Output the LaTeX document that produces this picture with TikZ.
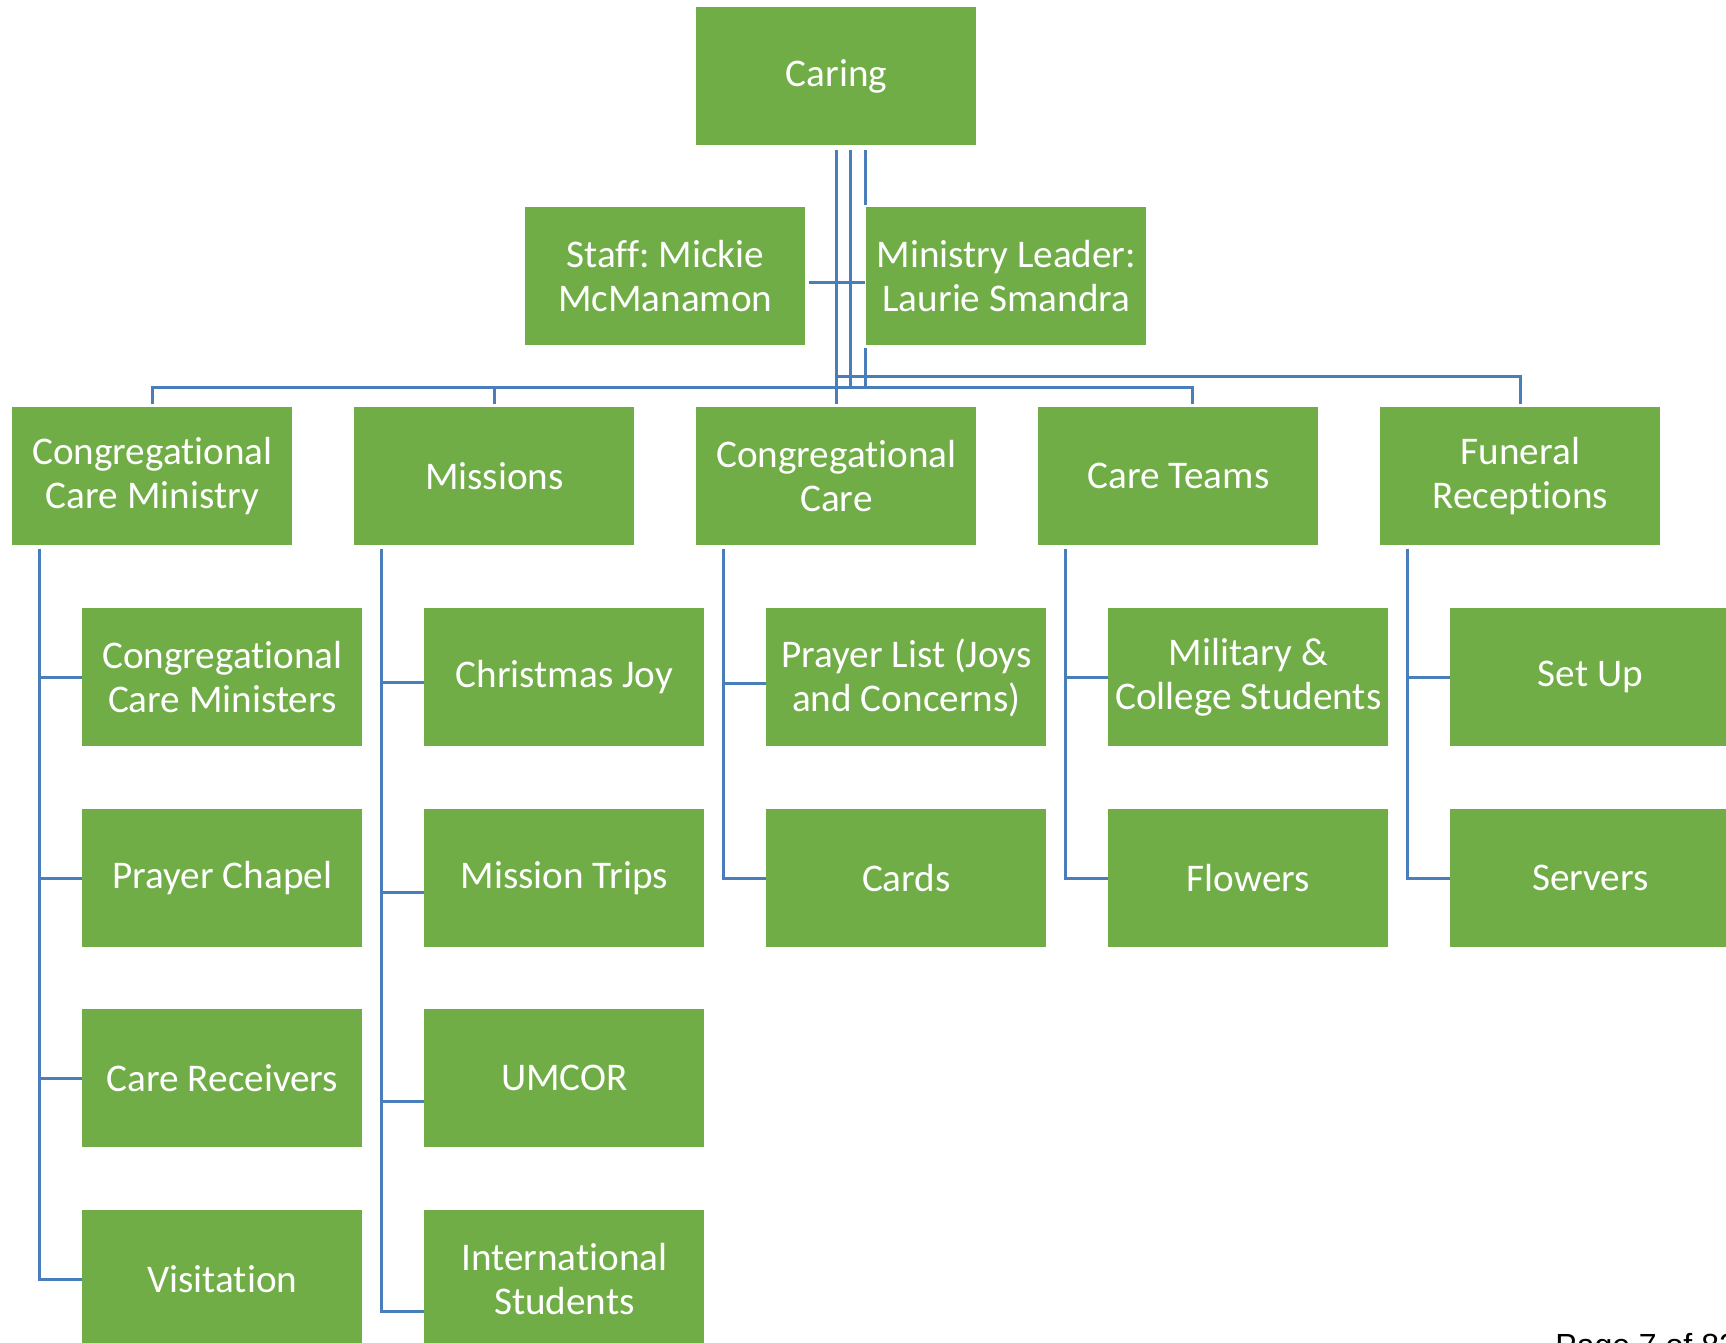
\documentclass[tikz,border=0pt]{standalone}
\usepackage{fontspec}
\setmainfont{Carlito}[Ligatures={NoCommon}]
\newfontfamily\pagefont{Liberation Sans}
\definecolor{boxgreen}{RGB}{112,173,71}
\definecolor{linkblue}{RGB}{74,126,187}
\frenchspacing

\begin{document}
\begin{tikzpicture}[x=0.5pt, y=-0.5pt,
    box/.style={fill=boxgreen, text=white, anchor=north west, align=center,
        minimum width=140pt, minimum height=69pt, inner sep=0pt,
        font=\fontsize{19.6}{22}\selectfont},
    link/.style={draw=linkblue, line width=1.5pt}]
    \useasboundingbox (0,0) rectangle (1726,1343);
    \fill[white] (0,0) rectangle (1726,1343);
    \clip (0,0) rectangle (1726,1343);

    % top and assistants
    \node[box] (caring) at (696,7) {Caring};
    \node[box] (staff) at (525,207) {Staff: Mickie\\McManamon};
    \node[box] (leader) at (866,207) {Ministry Leader:\\Laurie Smandra};

    % first level
    \node[box] (ccm) at (12,407) {Congregational\\Care Ministry};
    \node[box] (missions) at (354,407) {Missions};
    \node[box] (cc) at (696,407) {Congregational\\Care};
    \node[box] (teams) at (1038,407) {Care Teams};
    \node[box] (funeral) at (1380,407) {Funeral\\Receptions};

    % second level
    \node[box] (ccm1) at (82,608) {Congregational\\Care Ministers};
    \node[box] (ccm2) at (82,809) {Prayer Chapel};
    \node[box] (ccm3) at (82,1009) {Care Receivers};
    \node[box] (ccm4) at (82,1210) {Visitation};
    \node[box] (mis1) at (424,608) {Christmas Joy};
    \node[box] (mis2) at (424,809) {Mission Trips};
    \node[box] (mis3) at (424,1009) {UMCOR};
    \node[box] (mis4) at (424,1210) {International\\Students};
    \node[box] (cc1) at (766,608) {Prayer List (Joys\\and Concerns)};
    \node[box] (cc2) at (766,809) {Cards};
    \node[box] (team1) at (1108,608) {Military \&\\College Students};
    \node[box] (team2) at (1108,809) {Flowers};
    \node[box] (fun1) at (1450,608) {Set Up};
    \node[box] (fun2) at (1450,809) {Servers};

    \node[font=\pagefont\fontsize{16}{19}\selectfont, anchor=base west, inner sep=0pt] (page) at (1555,1356) {Page 7 of 82};

    % connectors from the top
    \coordinate (bar) at (0,387);
    \coordinate (bar2) at (0,376);
    \coordinate (t2) at ([xshift=7.15pt,yshift=-2pt]caring.south);
    \coordinate (t3) at ([xshift=14.5pt,yshift=-2pt]caring.south);
    \coordinate (s3) at ([xshift=14.5pt,yshift=-3pt]staff.east);
    \coordinate (tt) at (1192,404);
    \draw[link, shorten <=2pt, shorten >=1.5pt] (caring) -- (cc);
    \draw[link] (t2) -- (t2 |- bar);
    \draw[link] (t3) -- ++(0,55);
    \draw[link] (t3 |- 0,348) -- (t3 |- bar);
    \draw[link] ([xshift=1.5pt,yshift=-3pt]staff.east) -- (s3 -| t3);
    \draw[link] ([yshift=1.5pt]ccm.north) |- (bar -| tt) -- (tt);
    \draw[link] ([yshift=1.5pt]missions.north) -- (missions.north |- bar);
    \draw[link] (cc.north |- bar2) -| ([yshift=1.5pt]funeral.north);

    % connectors to the second level
    \coordinate (v1) at ([xshift=13.5pt,yshift=-1.5pt]ccm.south west);
    \coordinate (v2) at ([xshift=13.5pt,yshift=-1.5pt]missions.south west);
    \coordinate (v3) at ([xshift=13.5pt,yshift=-1.5pt]cc.south west);
    \coordinate (v4) at ([xshift=13.5pt,yshift=-1.5pt]teams.south west);
    \coordinate (v5) at ([xshift=13.5pt,yshift=-1.5pt]funeral.south west);
    \draw[link] (v1) |- (ccm4.west);
    \foreach \n in {ccm1,ccm2,ccm3}
        \draw[link] (v1 |- \n.west) -- (\n.west);
    \draw[link] (v2) |- ([yshift=-16pt]mis4.west);
    \draw[link] (v2 |- 0,682) -- (mis1.west |- 0,682);
    \draw[link] (v2 |- 0,892) -- (mis2.west |- 0,892);
    \draw[link] (v2 |- 0,1101) -- (mis3.west |- 0,1101);
    \draw[link] (v3) |- (cc2.west);
    \draw[link] (v3 |- 0,683) -- (cc1.west |- 0,683);
    \draw[link] (v4) |- (team2.west);
    \draw[link] (v4 |- team1.west) -- (team1.west);
    \draw[link] (v5) |- (fun2.west);
    \draw[link] (v5 |- fun1.west) -- (fun1.west);
\end{tikzpicture}
\end{document}
